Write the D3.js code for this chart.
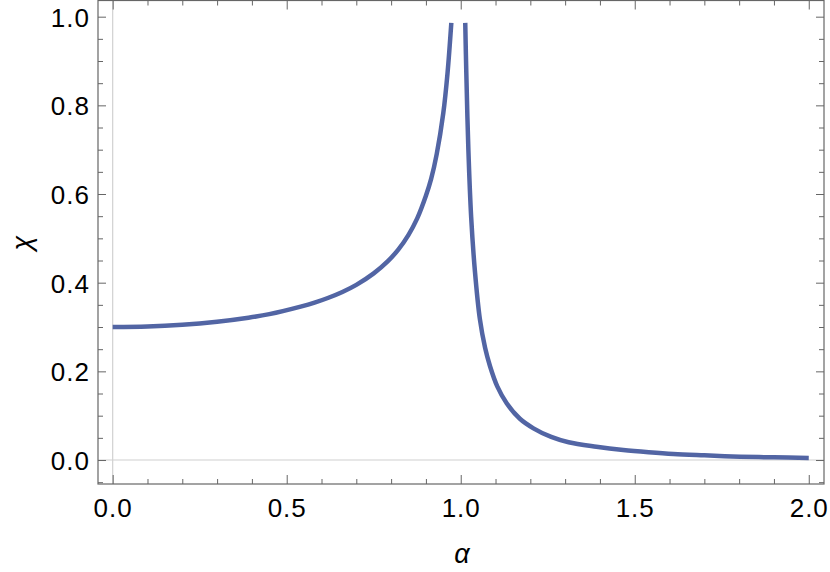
<!DOCTYPE html>
<html>
<head>
<meta charset="utf-8">
<script src="https://cdn.jsdelivr.net/npm/d3@7/dist/d3.min.js"></script>
<style>
  html, body { margin: 0; padding: 0; background: #fff; }
  svg { display: block; }
  text { font-family: "Liberation Sans", Arial, sans-serif; }
</style>
</head>
<body>
<svg id="chart" width="830" height="572"></svg>
<script>
// ---- data ----
const alphaLeft = [0.00, 0.10, 0.20, 0.30, 0.39, 0.45, 0.54, 0.58, 0.62, 0.66, 0.70, 0.75, 0.79, 0.82, 0.85, 0.875, 0.90, 0.915, 0.931, 0.950, 0.962, 0.973];
const chiLeft   = [0.300, 0.301, 0.305, 0.312, 0.321, 0.329, 0.346, 0.355, 0.366, 0.379, 0.395, 0.421, 0.448, 0.474, 0.508, 0.545, 0.596, 0.634, 0.690, 0.783, 0.872, 0.986];
const alphaRight = [1.013, 1.016, 1.022, 1.030, 1.041, 1.055, 1.070, 1.084, 1.105, 1.132, 1.170, 1.209, 1.260, 1.310, 1.390, 1.467, 1.540, 1.611, 1.700, 1.803, 1.900, 2.000];
const chiRight   = [0.986, 0.875, 0.700, 0.548, 0.424, 0.318, 0.253, 0.212, 0.166, 0.128, 0.093, 0.0715, 0.052, 0.040, 0.030, 0.0226, 0.0175, 0.0135, 0.0105, 0.0075, 0.0060, 0.0048];
const xMajorTicks = [0, 0.5, 1.0, 1.5, 2.0];
const yMajorTicks = [0, 0.2, 0.4, 0.6, 0.8, 1.0];
const xMinorTicks = d3.range(0, 21).map(i => i / 10).filter(v => !xMajorTicks.some(m => Math.abs(m - v) < 1e-9));
const yMinorTicks = d3.range(-1, 21).map(i => i / 20).filter(v => !yMajorTicks.some(m => Math.abs(m - v) < 1e-9));
const xLabel = "α";
const yLabel = "χ";

// ---- layout ----
const L = 98, R = 824, T = 0.5, B = 484;
const svg = d3.select("#chart");
const x = d3.scaleLinear().domain([-0.0422, 2.0438]).range([L, R]);
const y = d3.scaleLinear().domain([-0.0541, 1.0365]).range([B, T]);

const frameColor = "#666";

// zero axes (light gray)
svg.append("line").attr("x1", x(0)).attr("x2", x(0)).attr("y1", T).attr("y2", B)
  .attr("stroke", "#d0d0d0").attr("stroke-width", 1.2);
svg.append("line").attr("x1", L).attr("x2", R).attr("y1", y(0)).attr("y2", y(0))
  .attr("stroke", "#d0d0d0").attr("stroke-width", 1.2);

function styleAxis(g) {
  g.select(".domain").remove();
  g.selectAll(".tick line").attr("stroke", frameColor).attr("stroke-width", 1);
  g.selectAll(".tick text").attr("fill", "#000").style("font-size", "26px").style("letter-spacing", "1px");
}

// bottom
svg.append("g").attr("transform", `translate(0,${B})`)
  .call(d3.axisBottom(x).tickValues(xMajorTicks).tickSize(-9).tickPadding(15).tickFormat(d3.format(".1f")))
  .call(styleAxis);
svg.append("g").attr("transform", `translate(0,${B})`)
  .call(d3.axisBottom(x).tickValues(xMinorTicks).tickSize(-5).tickFormat(""))
  .call(styleAxis);
// top
svg.append("g").attr("transform", `translate(0,${T})`)
  .call(d3.axisTop(x).tickValues(xMajorTicks).tickSize(-9).tickFormat(""))
  .call(styleAxis);
svg.append("g").attr("transform", `translate(0,${T})`)
  .call(d3.axisTop(x).tickValues(xMinorTicks).tickSize(-5).tickFormat(""))
  .call(styleAxis);
// left
svg.append("g").attr("transform", `translate(${L},0)`)
  .call(d3.axisLeft(y).tickValues(yMajorTicks).tickSize(-8).tickPadding(8).tickFormat(d3.format(".1f")))
  .call(styleAxis)
  .selectAll(".tick text").attr("dy", "0.36em");
svg.append("g").attr("transform", `translate(${L},0)`)
  .call(d3.axisLeft(y).tickValues(yMinorTicks).tickSize(-5).tickFormat(""))
  .call(styleAxis);
// right
svg.append("g").attr("transform", `translate(${R},0)`)
  .call(d3.axisRight(y).tickValues(yMajorTicks).tickSize(-8).tickFormat(""))
  .call(styleAxis);
svg.append("g").attr("transform", `translate(${R},0)`)
  .call(d3.axisRight(y).tickValues(yMinorTicks).tickSize(-5).tickFormat(""))
  .call(styleAxis);

// frame
svg.append("rect").attr("x", L).attr("y", T).attr("width", R - L).attr("height", B - T)
  .attr("fill", "none").attr("stroke", frameColor).attr("stroke-width", 1.2);

// curve
const line = d3.line().x(d => x(d[0])).y(d => y(d[1])).curve(d3.curveCatmullRom.alpha(0.5));
svg.append("clipPath").attr("id", "clip").append("rect")
  .attr("x", L).attr("y", T).attr("width", R - L).attr("height", B - T);
[[alphaLeft, chiLeft], [alphaRight, chiRight]].forEach(([a, c]) => {
  svg.append("path").datum(a.map((v, i) => [v, c[i]]))
    .attr("d", line).attr("fill", "none")
    .attr("stroke", "#5265a4").attr("stroke-width", 4.5)
    .attr("stroke-linejoin", "round")
    .attr("clip-path", "url(#clip)");
});

// axis labels
svg.append("text").attr("x", 462).attr("y", 563).attr("text-anchor", "middle")
  .style("font-size", "27px").style("font-style", "italic").text(xLabel);
svg.append("text").attr("transform", "translate(31,243) rotate(-90)").attr("text-anchor", "middle")
  .style("font-size", "27px").style("font-style", "italic").text(yLabel);
</script>
</body>
</html>
